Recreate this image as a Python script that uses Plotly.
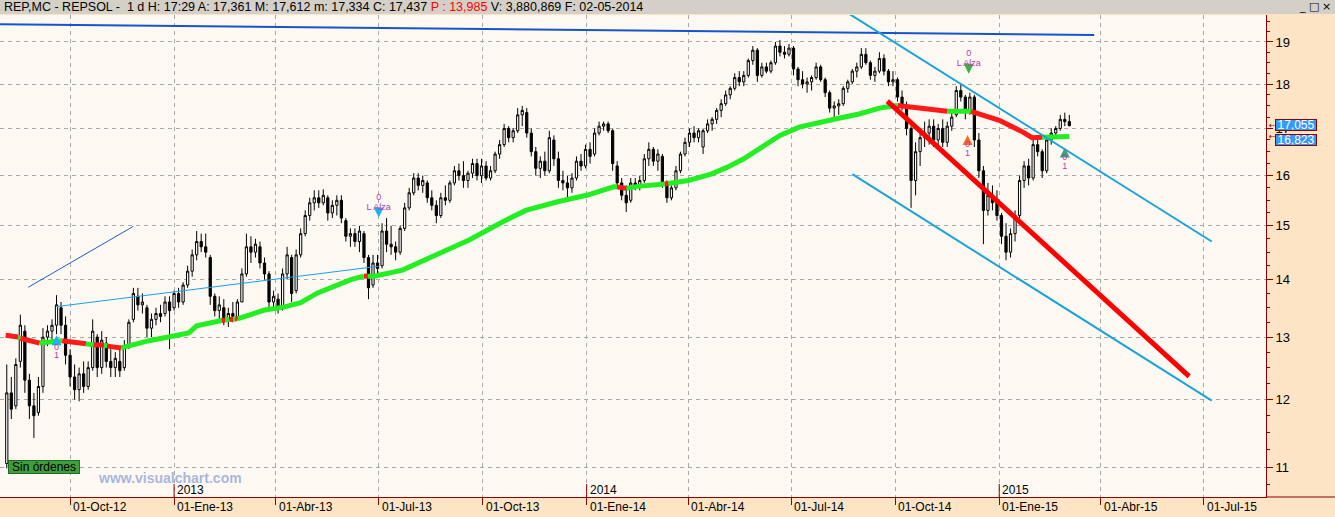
import numpy as np
import pandas as pd
import plotly.graph_objects as go

# ---------------- data ----------------
bar_start = "2012-08-06"   # first bar
bar_step = "4D"            # one bar every 4 calendar days

opens = [
    11.05, 12.1, 11.9, 12.6, 13.1, 12.3, 11.9, 11.8, 12.2, 13.0, 13.1, 13.2, 13.5, 13.2, 12.7, 12.35, 12.15, 12.4, 12.2, 12.5,
    13.0, 12.5, 12.9, 12.6, 12.5, 12.6, 12.5, 12.85, 13.3, 13.7, 13.55, 13.5, 13.15, 13.3, 13.4, 13.4, 13.6, 13.5, 13.75, 13.6, 13.9,
    14.15, 14.45, 14.7, 14.6, 14.4, 13.7, 13.45, 13.5, 13.3, 13.4, 13.35, 13.6, 14.1, 14.6, 14.5, 14.6, 14.3, 14.1, 13.6, 13.65,
    13.5, 14.1, 14.4, 13.8, 14.45, 14.85, 15.2, 15.45, 15.55, 15.45, 15.55, 15.25, 15.4, 15.5, 15.1, 14.8, 14.85, 14.7, 14.85, 14.4,
    13.9, 14.3, 14.25, 14.9, 14.65, 14.6, 14.5, 14.95, 15.35, 15.65, 15.95, 15.8, 15.85, 15.55, 15.4, 15.2, 15.55, 15.5, 15.85, 16.1,
    16.0, 15.9, 16.05, 16.25, 16.0, 16.2, 15.95, 16.1, 16.45, 16.65, 17.0, 16.8, 16.95, 17.3, 17.35, 16.9, 16.5, 16.15, 16.3, 16.1,
    16.75, 16.35,
    15.9, 15.85, 15.75, 15.95, 16.3, 16.2, 16.55, 16.45, 16.9, 17.05, 17.1, 16.95, 16.2, 15.85, 15.6, 15.5, 15.85, 15.8, 15.9, 16.35,
    16.55, 16.3, 16.4, 15.85, 15.55, 15.75, 16.1, 16.45, 16.7, 16.9, 16.8, 16.6, 16.95, 17.1, 17.2, 17.4, 17.55, 17.75, 17.9, 18.15,
    18.05,
    18.2, 18.55, 18.8, 18.2, 18.4, 18.3, 18.5, 18.9, 18.75, 18.7, 18.85, 18.35, 18.1, 18.0, 18.05, 18.15, 18.4, 18.1, 17.8, 17.45,
    17.5, 17.55, 17.9, 18.05, 18.3, 18.4, 18.7, 18.5, 18.2, 18.3, 18.6, 18.3, 18.05, 18.1, 17.7, 17.5, 17.0, 15.9, 16.5, 16.8,
    16.9,
    17.05, 16.75, 17.0, 16.7, 17.05, 17.3, 17.85, 17.7, 17.35, 17.7, 16.75, 16.1, 15.3, 15.6, 15.45, 15.2, 14.8, 14.5, 14.85, 15.2,
    15.9, 16.2, 15.95, 16.65, 16.5, 16.1, 16.75, 16.9, 17.0, 17.2, 17.15,
]
highs = [
    12.55, 12.35, 12.65, 13.38, 13.2, 12.4, 12.1, 12.35, 13.15, 13.2, 13.3, 13.72, 13.6, 13.35, 12.8, 12.55, 12.5, 12.6, 12.6, 13.3,
    13.05, 13.1, 13.0, 12.8, 12.75, 12.8, 12.95, 13.3, 13.85, 13.85, 13.75, 13.55, 13.4, 13.5, 13.55, 13.7, 13.7, 13.8, 13.85, 13.95, 14.25,
    14.55, 14.9, 14.85, 14.85, 14.45, 13.75, 13.7, 13.65, 13.5, 13.6, 13.65, 14.2, 14.85, 14.8, 14.75, 14.7, 14.4, 14.15, 13.8, 13.75,
    14.2, 14.6, 14.45, 14.55, 14.95, 15.3, 15.55, 15.7, 15.7, 15.72, 15.6, 15.5, 15.6, 15.6, 15.15, 14.95, 14.95, 15.0, 14.9, 14.45,
    14.45, 14.45, 15.05, 15.15, 15.0, 14.7, 15.0, 15.45, 15.75, 16.05, 16.05, 16.0, 15.9, 15.7, 15.5, 15.65, 15.8, 15.9, 16.2, 16.25,
    16.3, 16.1, 16.35, 16.35, 16.35, 16.3, 16.2, 16.5, 16.75, 17.1, 17.05, 17.0, 17.45, 17.5, 17.45, 17.0, 16.6, 16.4, 16.5, 16.95,
    16.85, 16.5,
    16.1, 16.0, 16.05, 16.4, 16.45, 16.65, 16.7, 17.0, 17.15, 17.15, 17.15, 17.0, 16.3, 15.95, 15.8, 15.95, 15.95, 16.0, 16.45, 16.7,
    16.6, 16.55, 16.45, 15.9, 15.8, 16.2, 16.5, 16.8, 17.0, 17.05, 17.0, 17.0, 17.2, 17.25, 17.45, 17.65, 17.85, 17.95, 18.25, 18.3,
    18.3,
    18.6, 18.9, 18.85, 18.5, 18.5, 18.55, 19.0, 19.05, 18.9, 18.95, 18.9, 18.4, 18.3, 18.15, 18.2, 18.5, 18.45, 18.15, 17.85, 17.6,
    17.65, 17.95, 18.1, 18.35, 18.5, 18.85, 18.85, 18.55, 18.4, 18.75, 18.7, 18.35, 18.3, 18.15, 17.85, 17.6, 17.05, 16.7, 16.95, 17.15,
    17.2,
    17.2, 17.1, 17.2, 17.15, 17.35, 17.95, 18.0, 17.75, 17.8, 17.75, 16.9, 16.2, 15.85, 15.8, 15.7, 15.25, 15.05, 14.95, 15.3, 16.0,
    16.3, 16.35, 16.8, 16.75, 16.55, 16.85, 17.0, 17.05, 17.3, 17.35, 17.3,
]
lows = [
    10.98, 11.7, 11.85, 12.5, 12.1, 11.7, 11.42, 11.75, 12.1, 12.85, 12.95, 13.05, 13.05, 12.55, 12.2, 12.0, 11.97, 12.1, 12.15, 12.45,
    12.35, 12.4, 12.5, 12.35, 12.35, 12.35, 12.45, 12.8, 13.25, 13.45, 13.4, 13.0, 13.0, 13.2, 13.25, 13.35, 12.8, 13.45, 13.5, 13.55, 13.85,
    14.05, 14.35, 14.5, 14.4, 13.55, 13.35, 13.3, 13.2, 13.17, 13.25, 13.3, 13.6, 14.05, 14.3, 14.4, 14.2, 14.0, 13.5, 13.45, 13.4,
    13.45, 14.0, 13.6, 13.75, 14.4, 14.8, 15.1, 15.3, 15.35, 15.4, 15.1, 15.15, 15.2, 15.05, 14.7, 14.6, 14.6, 14.5, 14.3, 13.65,
    13.85, 14.1, 14.2, 14.5, 14.45, 14.35, 14.45, 14.9, 15.3, 15.6, 15.7, 15.65, 15.45, 15.3, 15.05, 15.15, 15.4, 15.45, 15.8, 15.9,
    15.75, 15.75, 15.95, 15.9, 15.85, 15.9, 15.9, 16.05, 16.35, 16.6, 16.7, 16.7, 16.9, 17.05, 16.8, 16.4, 16.0, 15.95, 16.0, 16.05,
    16.2, 15.75,
    15.7, 15.55, 15.65, 15.9, 16.1, 16.15, 16.25, 16.4, 16.85, 16.95, 16.9, 16.1, 15.75, 15.5, 15.27, 15.45, 15.7, 15.7, 15.85, 16.2,
    16.2, 16.1, 15.75, 15.45, 15.5, 15.7, 16.05, 16.4, 16.6, 16.7, 16.7, 16.45, 16.9, 16.95, 17.1, 17.25, 17.5, 17.65, 17.85, 17.95,
    17.95,
    18.15, 18.45, 18.05, 18.15, 18.25, 18.25, 18.45, 18.65, 18.6, 18.65, 18.2, 17.95, 17.9, 17.8, 17.85, 18.1, 18.05, 17.7, 17.35, 17.25,
    17.3, 17.5, 17.8, 18.0, 18.15, 18.35, 18.45, 18.1, 18.05, 18.25, 18.2, 17.95, 17.95, 17.6, 17.4, 16.85, 15.35, 15.6, 16.2, 16.6,
    16.65,
    16.6, 16.55, 16.6, 16.6, 16.95, 17.25, 17.6, 17.2, 17.3, 16.6, 15.95, 14.65, 15.2, 15.3, 15.1, 14.65, 14.35, 14.4, 14.7, 15.15,
    15.75, 15.8, 15.9, 16.4, 15.95, 16.05, 16.65, 16.8, 16.95, 17.05, 17.05,
]
closes = [
    12.1, 11.85, 12.55, 13.2, 12.3, 11.9, 11.75, 12.2, 13.0, 13.1, 13.2, 13.55, 13.2, 12.7, 12.35, 12.15, 12.4, 12.2, 12.5, 13.1,
    12.5, 12.95, 12.6, 12.5, 12.65, 12.45, 12.85, 13.25, 13.75, 13.55, 13.6, 13.15, 13.3, 13.4, 13.35, 13.6, 13.45, 13.75, 13.6, 13.9, 14.15,
    14.45, 14.7, 14.6, 14.5, 13.7, 13.45, 13.55, 13.3, 13.4, 13.35, 13.6, 14.1, 14.6, 14.5, 14.65, 14.3, 14.1, 13.6, 13.7, 13.5,
    14.1, 14.45, 13.75, 14.45, 14.85, 15.2, 15.45, 15.55, 15.45, 15.6, 15.25, 15.4, 15.5, 15.15, 14.8, 14.85, 14.7, 14.9, 14.4, 13.85,
    14.3, 14.2, 14.9, 14.65, 14.6, 14.5, 14.95, 15.35, 15.65, 15.95, 15.8, 15.9, 15.55, 15.4, 15.2, 15.55, 15.5, 15.85, 16.1, 16.0,
    15.9, 16.05, 16.25, 16.0, 16.2, 15.95, 16.1, 16.45, 16.65, 17.0, 16.8, 16.95, 17.3, 17.4, 16.9, 16.5, 16.15, 16.3, 16.1, 16.8,
    16.35, 15.9,
    15.85, 15.75, 15.95, 16.3, 16.2, 16.55, 16.4, 16.9, 17.05, 17.1, 16.95, 16.25, 15.85, 15.6, 15.45, 15.85, 15.8, 15.9, 16.35, 16.55,
    16.3, 16.45, 15.85, 15.55, 15.75, 16.1, 16.45, 16.7, 16.9, 16.8, 16.95, 16.95, 17.1, 17.2, 17.4, 17.55, 17.75, 17.9, 18.15, 18.05,
    18.2,
    18.55, 18.8, 18.2, 18.4, 18.3, 18.5, 18.9, 18.75, 18.7, 18.85, 18.35, 18.1, 18.0, 18.05, 18.15, 18.4, 18.1, 17.8, 17.45, 17.5,
    17.55, 17.9, 18.05, 18.3, 18.4, 18.7, 18.5, 18.2, 18.3, 18.6, 18.3, 18.05, 18.1, 17.7, 17.5, 17.0, 15.9, 16.5, 16.8, 16.9,
    17.05,
    16.75, 17.0, 16.7, 17.05, 17.25, 17.85, 17.7, 17.35, 17.7, 16.75, 16.1, 15.3, 15.6, 15.45, 15.2, 14.8, 14.5, 14.85, 15.2, 15.9,
    16.2, 15.95, 16.65, 16.5, 16.1, 16.75, 16.9, 17.0, 17.2, 17.15, 17.06,
]

# moving average knots (colour g = green, r = red) for the segment that starts at each knot
ma_dates = [
    "2012-08-05", "2012-08-16", "2012-08-18", "2012-09-04", "2012-09-24", "2012-10-15", "2012-10-22", "2012-10-31",
    "2012-11-03", "2012-11-15", "2012-12-10", "2013-01-14", "2013-01-21", "2013-02-12", "2013-02-15", "2013-02-19",
    "2013-02-22", "2013-02-24", "2013-02-26", "2013-03-22", "2013-04-08", "2013-04-23", "2013-05-08", "2013-05-23",
    "2013-06-07", "2013-06-18", "2013-06-21", "2013-06-27", "2013-07-22", "2013-08-21", "2013-09-19", "2013-10-18",
    "2013-11-08", "2013-12-08", "2014-01-01", "2014-01-25", "2014-01-28", "2014-02-05", "2014-02-15", "2014-03-11",
    "2014-03-14", "2014-04-01", "2014-04-21", "2014-05-05", "2014-05-20", "2014-06-03", "2014-06-21", "2014-07-08",
    "2014-07-26", "2014-08-13", "2014-08-30", "2014-09-17", "2014-10-03", "2014-10-31", "2014-11-16", "2014-12-07",
    "2015-01-01", "2015-01-22", "2015-01-30", "2015-02-08", "2015-03-04",
]
ma_values = [
    13.03, 13.00, 12.98, 12.90, 12.94, 12.89, 12.87, 12.87,
    12.85, 12.82, 12.94, 13.07, 13.19, 13.28, 13.29, 13.30,
    13.30, 13.31, 13.31, 13.46, 13.51, 13.59, 13.76, 13.88,
    14.00, 14.06, 14.06, 14.06, 14.17, 14.45, 14.73, 15.07,
    15.30, 15.48, 15.60, 15.77, 15.77, 15.74, 15.78, 15.83,
    15.84, 15.90, 16.03, 16.17, 16.35, 16.56, 16.85, 17.03,
    17.14, 17.23, 17.32, 17.45, 17.51, 17.42, 17.38, 17.38,
    17.18, 16.92, 16.80, 16.81, 16.823,
]
ma_colour = [
    "r", "g", "r", "g", "r", "g", "r", "g",
    "r", "g", "g", "g", "g", "r", "g", "r",
    "g", "r", "g", "g", "g", "g", "g", "g",
    "g", "r", "g", "g", "g", "g", "g", "g",
    "g", "g", "g", "g", "r", "g", "g", "r",
    "g", "g", "g", "g", "g", "g", "g", "g",
    "g", "g", "g", "g", "r", "r", "g", "r",
    "r", "r", "r", "g", "g",
]

# hand-drawn lines: (dates, prices)
top_line_dates, top_line_prices = ["2012-07-31", "2015-03-26"], [19.44, 19.17]
upleft_line_dates, upleft_line_prices = ["2012-08-25", "2012-11-26"], [13.86, 14.99]
support_dates, support_prices = ["2012-09-19", "2013-07-01"], [13.52, 14.24]
chan_up_dates, chan_up_prices = ["2014-08-09", "2015-07-08"], [19.92, 14.70]
chan_lo_dates, chan_lo_prices = ["2014-08-24", "2015-07-08"], [16.03, 11.98]
red_line_dates, red_line_prices = ["2014-09-24", "2015-06-18"], [17.61, 12.36]
end_marker_date, end_marker_price = ["2015-08-26"], [14.69]

# signals
sig_dates = ["2012-09-19", "2013-07-01", "2014-12-05", "2014-12-04", "2015-02-28"]
sig_prices = [13.03, 15.16, 18.24, 16.86, 16.59]
sig_symbols = ["arrow-up", "arrow-down", "arrow-down", "arrow-up", "arrow-up"]
sig_colours = ["#19b4f0", "#19b4f0", "#3cb043", "#ff6a1a", "#3fa078"]
lab_dates = ["2012-09-19", "2012-09-19", "2013-07-01", "2013-07-01", "2014-12-05", "2014-12-05",
             "2014-12-04", "2014-12-04", "2015-02-28", "2015-02-28"]
lab_prices = [12.83, 12.70, 15.55, 15.36, 18.71, 18.47, 16.65, 16.46, 16.37, 16.18]
lab_texts = ["0", "1", "0", "L Alza", "0", "L Alza", "0", "1", "0", "1"]

# axes
x_range = ["2012-07-31", "2015-08-25"]
y_range = [10.584, 19.67]
x_tick_dates = ["2012-10-01", "2013-01-01", "2013-04-01", "2013-07-01", "2013-10-01", "2014-01-01",
                "2014-04-01", "2014-07-01", "2014-10-01", "2015-01-01", "2015-04-01", "2015-07-01"]
x_tick_labels = ["01-Oct-12", "01-Ene-13", "01-Abr-13", "01-Jul-13", "01-Oct-13", "01-Ene-14",
                 "01-Abr-14", "01-Jul-14", "01-Oct-14", "01-Ene-15", "01-Abr-15", "01-Jul-15"]
year_dates = ["2013-01-01", "2014-01-01", "2015-01-01"]
year_labels = ["2013", "2014", "2015"]
y_ticks = [11, 12, 13, 14, 15, 16, 17, 18, 19]
y_minor = [v + f for v in range(10, 20) for f in (0.25, 0.5, 0.75)]
price_tags = [16.823, 17.055]
price_tag_text = ["16,823", "17,055"]

title_text = ("REP,MC - REPSOL -  1 d H: 17:29 A: 17,361 M: 17,612 m: 17,334 C: 17,437 "
              "<span style='color:#ff0000'>P : 13,985</span> V: 3,880,869 F: 02-05-2014")

# ---------------- figure ----------------
W, H = 1335, 517
ML, MR, MT, MB = 0, 69, 15, 20
PW, PH = W - ML - MR, H - MT - MB
DARKRED = "#8b0000"
FONT = "Liberation Sans"


def px_x(p):  # pixel -> paper x
    return (p - ML) / PW


def px_y(p):  # pixel -> paper y
    return (H - MB - p) / PH


n = min(len(opens), len(highs), len(lows), len(closes))
dates = pd.date_range(bar_start, periods=n, freq=bar_step)

fig = go.Figure()
fig.add_trace(go.Candlestick(
    x=dates, open=opens[:n], high=highs[:n], low=lows[:n], close=closes[:n],
    increasing=dict(line=dict(color="black", width=1), fillcolor="white"),
    decreasing=dict(line=dict(color="black", width=1), fillcolor="black"),
    whiskerwidth=0, showlegend=False, hoverinfo="skip"))

# moving average in coloured runs
for col, colour in (("g", "#22ee22"), ("r", "#ff1a1a")):
    xs, ys = [], []
    for i in range(len(ma_values) - 1):
        if ma_colour[i] == col:
            if xs and xs[-1] is not None and xs[-1] != ma_dates[i]:
                xs.append(None); ys.append(None)
            if not xs or xs[-1] is None:
                xs.append(ma_dates[i]); ys.append(ma_values[i])
            xs.append(ma_dates[i + 1]); ys.append(ma_values[i + 1])
    fig.add_trace(go.Scatter(x=xs, y=ys, mode="lines", line=dict(color=colour, width=5),
                             showlegend=False, hoverinfo="skip", connectgaps=False))


def add_line(dx, dy, colour, width):
    fig.add_trace(go.Scatter(x=dx, y=dy, mode="lines", line=dict(color=colour, width=width),
                             showlegend=False, hoverinfo="skip"))


add_line(top_line_dates, top_line_prices, "#1555cc", 2)
add_line(upleft_line_dates, upleft_line_prices, "#1a5fd0", 1)
add_line(support_dates, support_prices, "#16a0ee", 1)
add_line(chan_up_dates, chan_up_prices, "#1aa2dc", 2)
add_line(chan_lo_dates, chan_lo_prices, "#1aa2dc", 2)
add_line(red_line_dates, red_line_prices, "#ff0000", 5)

fig.add_trace(go.Scatter(x=end_marker_date, y=end_marker_price, mode="markers",
                         marker=dict(symbol="square", size=5, color="black"),
                         cliponaxis=False, showlegend=False, hoverinfo="skip"))

fig.add_trace(go.Scatter(x=sig_dates, y=sig_prices, mode="markers",
                         marker=dict(symbol=sig_symbols, size=10, color=sig_colours,
                                     line=dict(width=0)),
                         showlegend=False, hoverinfo="skip"))
fig.add_trace(go.Scatter(x=lab_dates, y=lab_prices, mode="text", text=lab_texts,
                         textfont=dict(family=FONT, size=9, color="#b03cb0"),
                         showlegend=False, hoverinfo="skip"))

fig.update_layout(
    width=W, height=H, margin=dict(l=ML, r=MR, t=MT, b=MB, pad=0),
    paper_bgcolor="#fde4c4", plot_bgcolor="#fdf9f2", showlegend=False,
    font=dict(family=FONT, size=12, color="black"),
    xaxis=dict(type="date", range=x_range, tickvals=x_tick_dates, showticklabels=False,
               ticks="outside", ticklen=7, tickcolor=DARKRED, tickwidth=1,
               showgrid=True, gridcolor="#a8a8a8", griddash="4px,4px", gridwidth=1,
               showline=True, linecolor=DARKRED, linewidth=1, zeroline=False,
               rangeslider=dict(visible=False), automargin=False, fixedrange=True),
    yaxis=dict(type="log", side="right", range=[np.log10(y_range[0]), np.log10(y_range[1])],
               tickvals=y_ticks, ticktext=[str(v) for v in y_ticks],
               ticks="outside", ticklen=6, tickcolor=DARKRED, tickwidth=1,
               tickfont=dict(family=FONT, size=13, color="black"),
               showgrid=True, gridcolor="#a8a8a8", griddash="4px,4px", gridwidth=1,
               showline=True, linecolor=DARKRED, linewidth=1, zeroline=False,
               minor=dict(tickvals=y_minor, ticks="outside", ticklen=3, tickcolor=DARKRED, showgrid=False),
               automargin=False, fixedrange=True),
)

shapes = []
annotations = []
# title bar
shapes.append(dict(type="rect", xref="paper", yref="paper", x0=px_x(0), x1=px_x(W), y0=px_y(14), y1=px_y(0),
                   fillcolor="#d4d0c8", line=dict(width=0), layer="above"))
annotations.append(dict(xref="paper", yref="paper", x=px_x(2), y=px_y(7), xanchor="left", yanchor="middle",
                        text=title_text, showarrow=False, font=dict(family=FONT, size=12.5, color="black")))
# window buttons
for bx, sym in zip([1302, 1314, 1326], ["_", "□", "×"]):
    annotations.append(dict(xref="paper", yref="paper", x=px_x(bx), y=px_y(6), xanchor="center", yanchor="middle",
                            text=sym, showarrow=False, font=dict(family="DejaVu Sans", size=11, color="black")))
# bottom axis line extension to the right
shapes.append(dict(type="line", xref="paper", yref="paper", x0=1, x1=px_x(W), y0=0, y1=0,
                   line=dict(color=DARKRED, width=1)))
# x tick labels
for d, t in zip(x_tick_dates, x_tick_labels):
    annotations.append(dict(xref="x", yref="paper", x=d, y=px_y(507), xanchor="left", yanchor="middle",
                            xshift=1, text=t, showarrow=False, font=dict(family=FONT, size=12, color="black")))
# year marks
for d, t in zip(year_dates, year_labels):
    shapes.append(dict(type="line", xref="x", yref="paper", x0=d, x1=d, y0=0, y1=px_y(484),
                       line=dict(color=DARKRED, width=1)))
    annotations.append(dict(xref="x", yref="paper", x=d, y=px_y(490), xanchor="left", yanchor="middle",
                            xshift=1, text=t, showarrow=False, font=dict(family=FONT, size=12, color="black")))
# price tags on the right axis (stacked boxes)
tag_shift = [-3, 1]
for i, (v, t) in enumerate(zip(price_tags, price_tag_text)):
    annotations.append(dict(xref="paper", yref="y", x=px_x(1275), y=np.log10(v), xanchor="left", yanchor="middle",
                            yshift=tag_shift[i], text=t, showarrow=False, width=40, height=10,
                            bgcolor="#3399ff", bordercolor=DARKRED, borderwidth=1, borderpad=0,
                            font=dict(family=FONT, size=12, color="white")))
    annotations.append(dict(xref="paper", yref="y", x=px_x(1267), y=np.log10(v), xanchor="left", yanchor="middle",
                            text="←", showarrow=False, font=dict(family="DejaVu Sans", size=8, color=DARKRED)))
# status box and watermark
annotations.append(dict(xref="paper", yref="paper", x=px_x(44), y=px_y(467), xanchor="center", yanchor="middle",
                        text="Sin órdenes", showarrow=False, width=70, height=12, bgcolor="#3e9e3e",
                        bordercolor="#1f6b1f", borderwidth=1, borderpad=0,
                        font=dict(family=FONT, size=12, color="black")))
annotations.append(dict(xref="paper", yref="paper", x=px_x(170), y=px_y(478), xanchor="center", yanchor="middle",
                        text="<b>www.visualchart.com</b>", showarrow=False,
                        font=dict(family=FONT, size=14, color="rgba(140,160,215,0.75)")))

fig.update_layout(shapes=shapes, annotations=annotations)
fig.write_html("out.html", config={"displayModeBar": False},
               post_script="document.body.style.margin='0';document.body.style.padding='0';")
